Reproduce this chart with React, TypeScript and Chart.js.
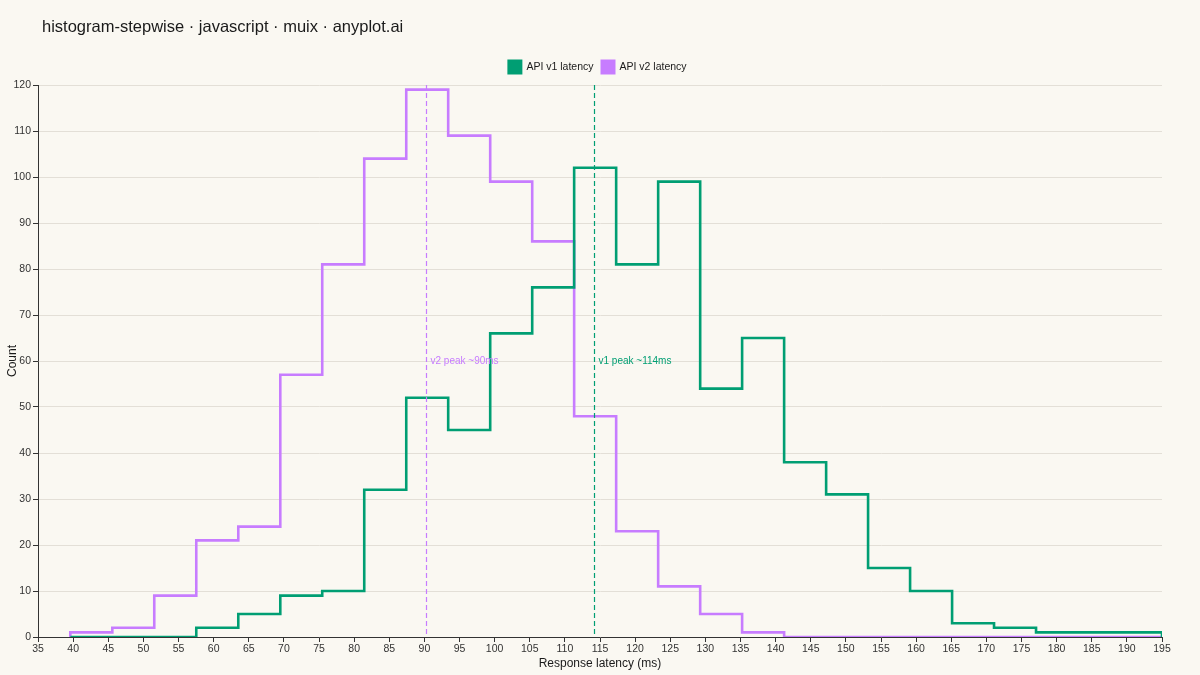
import { useEffect, useRef } from "react";
import { Chart, registerables, type Plugin } from "chart.js";

Chart.register(...registerables);

// bin edges (ms), 26 bins
const binEdges = [
  39.6, 45.58, 51.55, 57.53, 63.51, 69.49, 75.46, 81.44, 87.42, 93.39, 99.37,
  105.35, 111.32, 117.3, 123.28, 129.26, 135.23, 141.21, 147.19, 153.16,
  159.14, 165.12, 171.09, 177.07, 183.05, 189.02, 195.0,
];

const v1Counts = [
  0, 0, 0, 2, 5, 9, 10, 32, 52, 45, 66, 76, 102, 81, 99, 54, 65, 38, 31, 15, 10,
  3, 2, 1, 1, 1,
];

const v2Counts = [
  1, 2, 9, 21, 24, 57, 81, 104, 119, 109, 99, 86, 48, 23, 11, 5, 1, 0, 0, 0, 0,
  0, 0, 0, 0, 0,
];

const seriesNames = ["API v1 latency", "API v2 latency"];
const seriesColors = ["#009E73", "#C77CFF"];

const peakLines = [
  { x: 90.2, label: "v2 peak ~90ms", color: "#C77CFF" },
  { x: 114.1, label: "v1 peak ~114ms", color: "#009E73" },
];
const peakLabelY = 60;

const xTicks = { min: 35, max: 195, step: 5 };
const yTicks = { min: 0, max: 120, step: 10 };

const TITLE = "histogram-stepwise · javascript · muix · anyplot.ai";
const FONT = "'Liberation Sans', Arial, sans-serif";
const BG = "#FAF8F2";

// points for a stepped outline: start at 0, one point per left edge, close at 0
function stepPoints(counts: number[]) {
  const pts = [{ x: binEdges[0], y: 0 }];
  counts.forEach((c, i) => pts.push({ x: binEdges[i], y: c }));
  pts.push({ x: binEdges[binEdges.length - 1], y: 0 });
  return pts;
}

const extrasPlugin: Plugin<"line"> = {
  id: "extras",
  afterDraw(chart) {
    const { ctx } = chart;
    ctx.save();
    ctx.fillStyle = "#1a1a1a";
    ctx.font = `16.5px ${FONT}`;
    ctx.textBaseline = "middle";
    ctx.textAlign = "left";
    ctx.fillText(TITLE, 42, 27);

    // legend, centred over the plot
    const box = 15;
    const gap = 4;
    const spacing = 7;
    ctx.font = `10.5px ${FONT}`;
    const widths = seriesNames.map((n) => ctx.measureText(n).width);
    const total =
      widths.reduce((s, w) => s + box + gap + w, 0) + spacing * (widths.length - 1);
    let lx = 597 - total / 2;
    const ly = 67;
    seriesNames.forEach((name, i) => {
      ctx.fillStyle = seriesColors[i];
      ctx.fillRect(lx, ly - box / 2, box, box);
      ctx.fillStyle = "#1a1a1a";
      ctx.fillText(name, lx + box + gap, ly);
      lx += box + gap + widths[i] + spacing;
    });
    ctx.restore();
  },
  afterDatasetsDraw(chart) {
    const { ctx, chartArea, scales } = chart;
    const xs = scales.x;
    const ys = scales.y;
    ctx.save();
    peakLines.forEach((p) => {
      const px = Math.round(xs.getPixelForValue(p.x)) + 0.5;
      ctx.strokeStyle = p.color;
      ctx.lineWidth = 1.2;
      ctx.setLineDash([5, 3]);
      ctx.beginPath();
      ctx.moveTo(px, chartArea.top);
      ctx.lineTo(px, chartArea.bottom);
      ctx.stroke();
      ctx.setLineDash([]);
      ctx.fillStyle = p.color;
      ctx.font = `10px ${FONT}`;
      ctx.textBaseline = "middle";
      ctx.textAlign = "left";
      ctx.fillText(p.label, px + 4, ys.getPixelForValue(peakLabelY));
    });
    ctx.restore();
  },
};

export default function App() {
  const canvasRef = useRef<HTMLCanvasElement>(null);

  useEffect(() => {
    document.body.style.margin = "0";
    document.body.style.background = BG;
    if (!canvasRef.current) return;

    const chart = new Chart(canvasRef.current, {
      type: "line",
      data: {
        datasets: [
          {
            label: seriesNames[0],
            data: stepPoints(v1Counts),
            borderColor: seriesColors[0],
            backgroundColor: seriesColors[0],
            borderWidth: 2.6,
            stepped: "before",
            pointRadius: 0,
            fill: false,
          },
          {
            label: seriesNames[1],
            data: stepPoints(v2Counts),
            borderColor: seriesColors[1],
            backgroundColor: seriesColors[1],
            borderWidth: 2.6,
            stepped: "before",
            pointRadius: 0,
            fill: false,
          },
        ],
      },
      options: {
        animation: false,
        responsive: false,
        maintainAspectRatio: false,
        layout: { padding: { left: 0, right: 38, top: 85, bottom: 0 } },
        plugins: {
          title: { display: false },
          legend: { display: false },
          tooltip: { enabled: false },
        },
        scales: {
          x: {
            type: "linear",
            min: xTicks.min,
            max: xTicks.max,
            afterFit: (scale) => {
              scale.height = 38;
            },
            ticks: {
              stepSize: xTicks.step,
              color: "#333",
              font: { family: FONT, size: 10.5 },
              padding: 1,
              maxRotation: 0,
              autoSkip: false,
            },
            grid: { drawOnChartArea: false, drawTicks: true, tickLength: 5, color: "#333" },
            border: { color: "#333", width: 1 },
            title: {
              display: true,
              text: "Response latency (ms)",
              color: "#1a1a1a",
              font: { family: FONT, size: 12 },
              padding: { top: 0, bottom: 4 },
            },
          },
          y: {
            min: yTicks.min,
            max: yTicks.max,
            afterFit: (scale) => {
              scale.width = 38;
            },
            ticks: {
              stepSize: yTicks.step,
              color: "#333",
              font: { family: FONT, size: 10.5 },
              padding: 2,
            },
            grid: {
              color: "#E3DFD7",
              tickColor: "#333",
              tickLength: 5,
            },
            border: { color: "#333", width: 1 },
            title: {
              display: true,
              text: "Count",
              color: "#1a1a1a",
              font: { family: FONT, size: 12 },
              padding: { top: 5, bottom: 0 },
            },
          },
        },
      },
      plugins: [extrasPlugin],
    });

    return () => {
      chart.destroy();
    };
  }, []);

  return (
    <div style={{ width: 1200, height: 675, background: BG }}>
      <canvas ref={canvasRef} width={1200} height={675} />
    </div>
  );
}
